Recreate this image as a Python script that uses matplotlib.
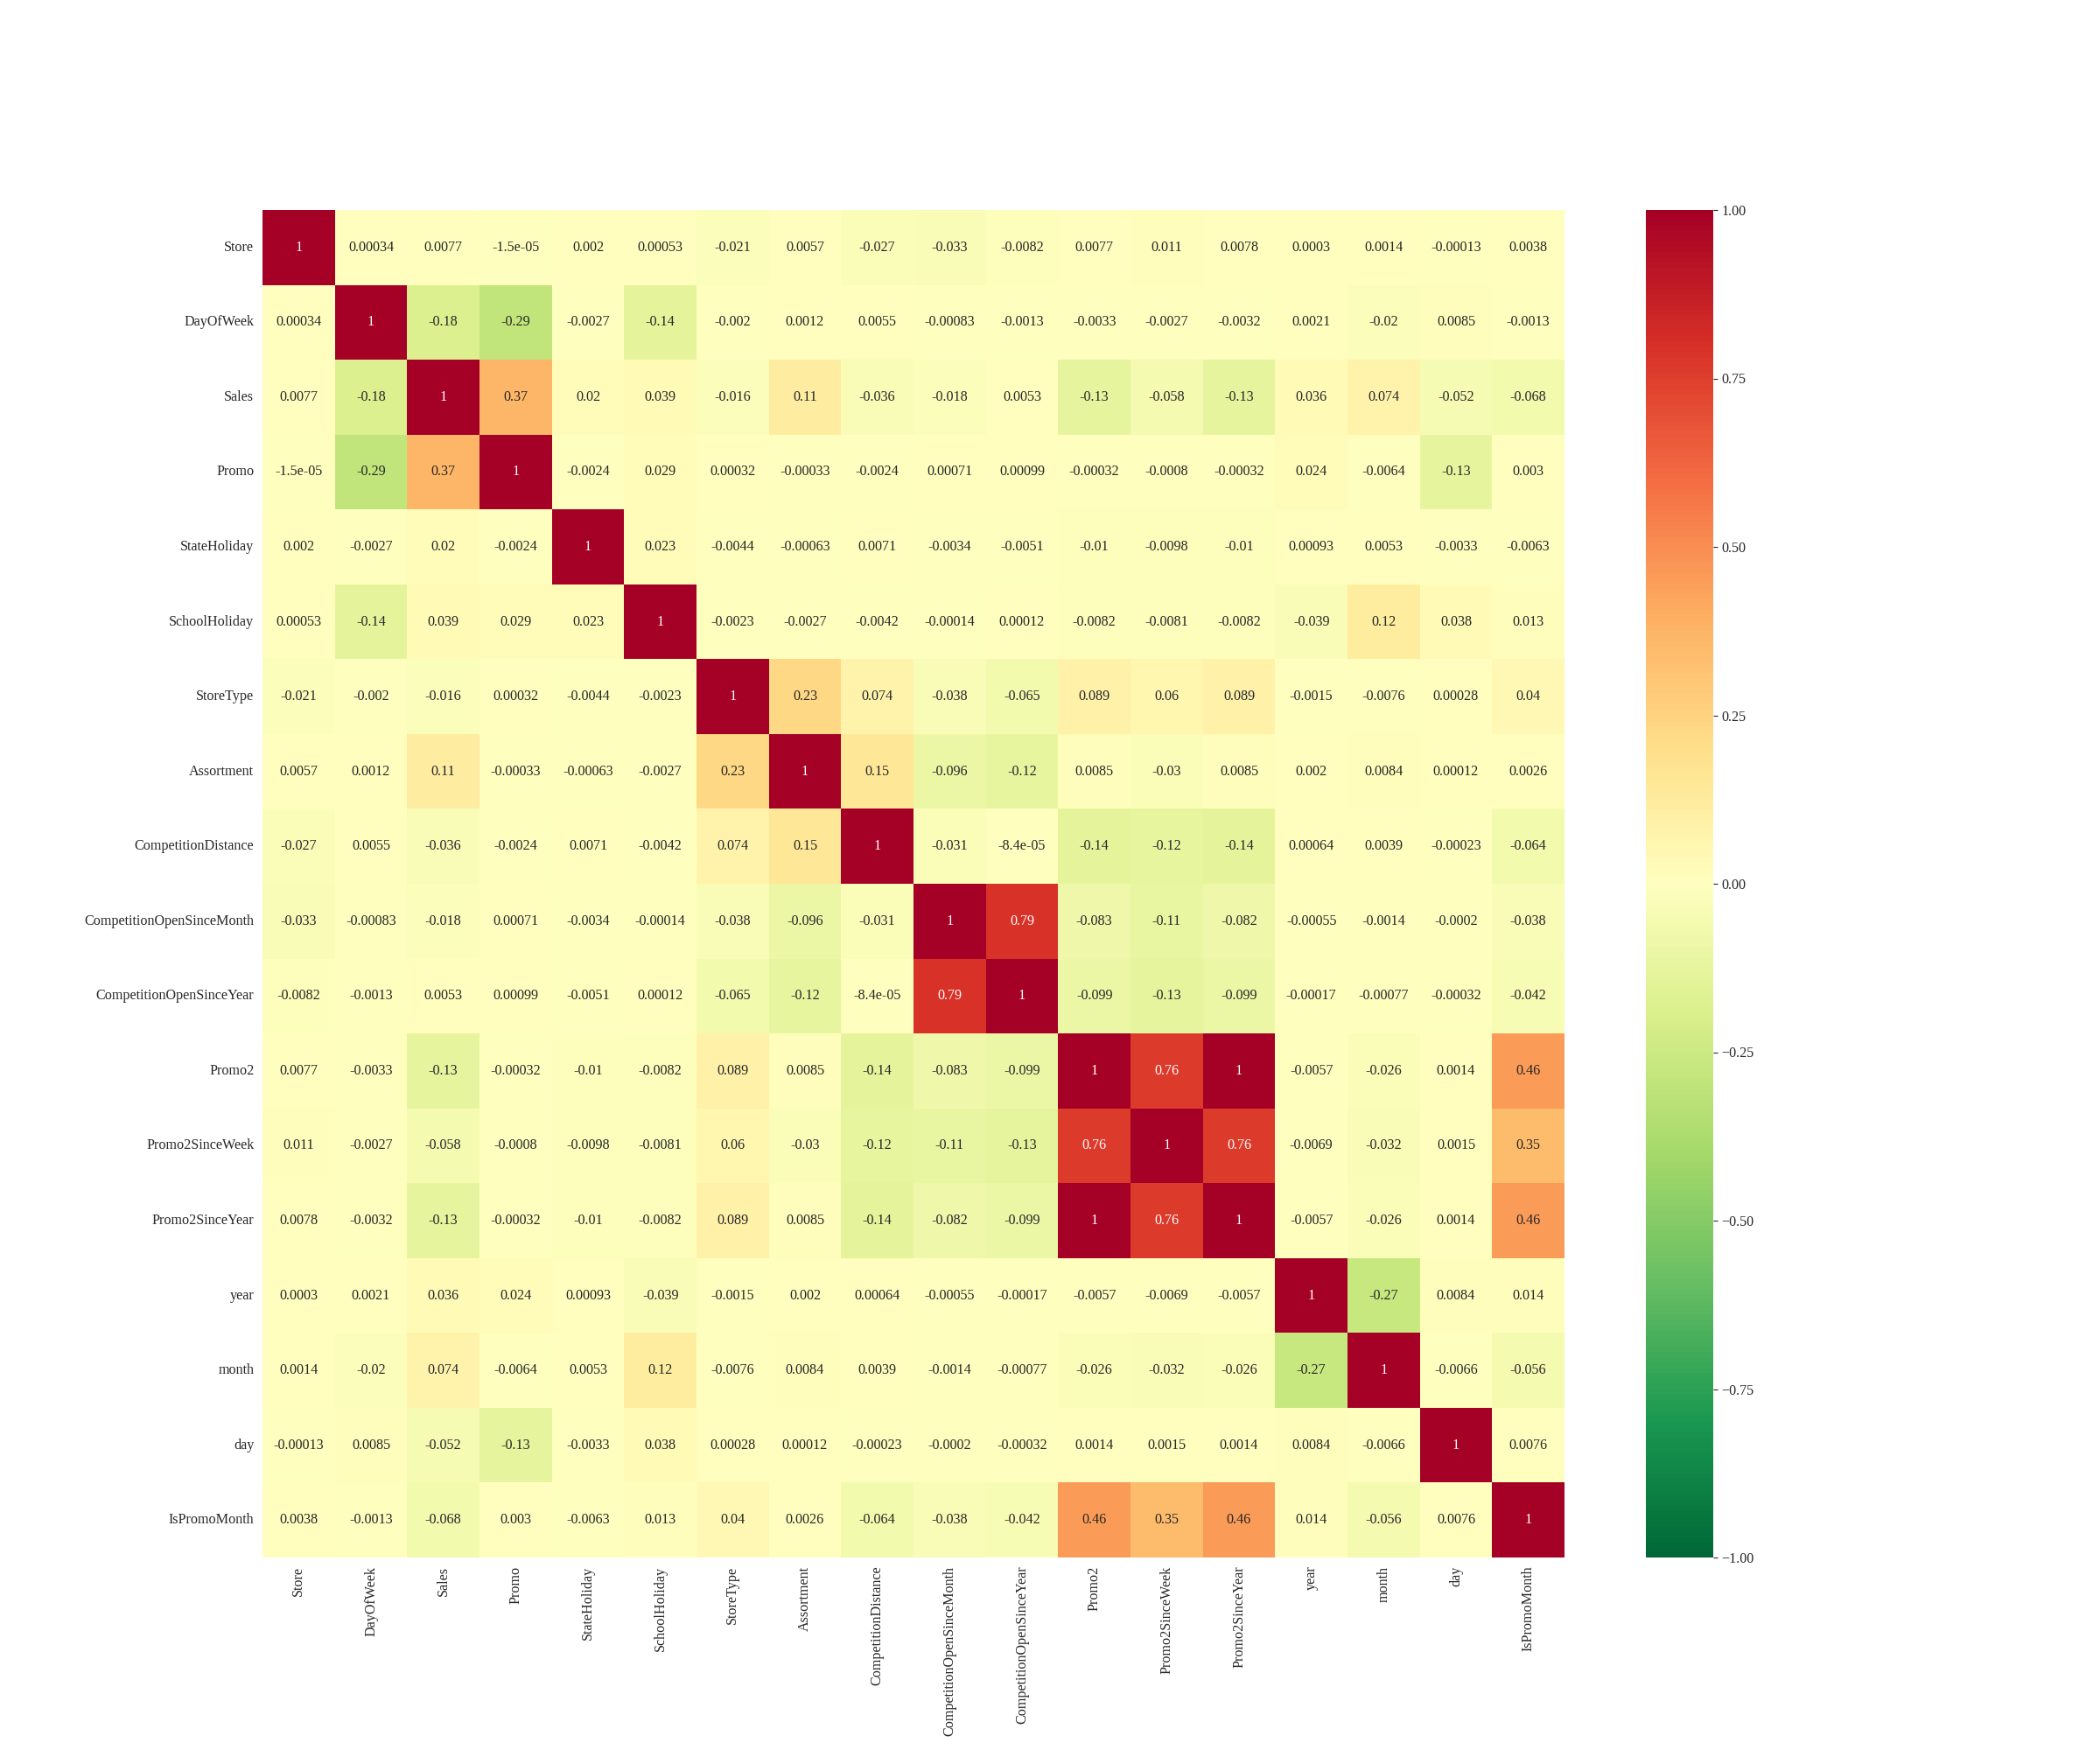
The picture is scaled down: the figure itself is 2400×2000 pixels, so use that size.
import matplotlib
matplotlib.use("Agg")
import matplotlib.pyplot as plt
import numpy as np
import pandas as pd
import seaborn as sns

# 列名
labels = ['Store', 'DayOfWeek', 'Sales', 'Promo', 'StateHoliday', 'SchoolHoliday',
          'StoreType', 'Assortment', 'CompetitionDistance', 'CompetitionOpenSinceMonth',
          'CompetitionOpenSinceYear', 'Promo2', 'Promo2SinceWeek', 'Promo2SinceYear',
          'year', 'month', 'day', 'IsPromoMonth']

# 相关系数矩阵
corr_values = [
    [1, 0.00034, 0.0077, -1.5e-05, 0.002, 0.00053, -0.021, 0.0057, -0.027, -0.033, -0.0082, 0.0077, 0.011, 0.0078, 0.0003, 0.0014, -0.00013, 0.0038],
    [0.00034, 1, -0.18, -0.29, -0.0027, -0.14, -0.002, 0.0012, 0.0055, -0.00083, -0.0013, -0.0033, -0.0027, -0.0032, 0.0021, -0.02, 0.0085, -0.0013],
    [0.0077, -0.18, 1, 0.37, 0.02, 0.039, -0.016, 0.11, -0.036, -0.018, 0.0053, -0.13, -0.058, -0.13, 0.036, 0.074, -0.052, -0.068],
    [-1.5e-05, -0.29, 0.37, 1, -0.0024, 0.029, 0.00032, -0.00033, -0.0024, 0.00071, 0.00099, -0.00032, -0.0008, -0.00032, 0.024, -0.0064, -0.13, 0.003],
    [0.002, -0.0027, 0.02, -0.0024, 1, 0.023, -0.0044, -0.00063, 0.0071, -0.0034, -0.0051, -0.01, -0.0098, -0.01, 0.00093, 0.0053, -0.0033, -0.0063],
    [0.00053, -0.14, 0.039, 0.029, 0.023, 1, -0.0023, -0.0027, -0.0042, -0.00014, 0.00012, -0.0082, -0.0081, -0.0082, -0.039, 0.12, 0.038, 0.013],
    [-0.021, -0.002, -0.016, 0.00032, -0.0044, -0.0023, 1, 0.23, 0.074, -0.038, -0.065, 0.089, 0.06, 0.089, -0.0015, -0.0076, 0.00028, 0.04],
    [0.0057, 0.0012, 0.11, -0.00033, -0.00063, -0.0027, 0.23, 1, 0.15, -0.096, -0.12, 0.0085, -0.03, 0.0085, 0.002, 0.0084, 0.00012, 0.0026],
    [-0.027, 0.0055, -0.036, -0.0024, 0.0071, -0.0042, 0.074, 0.15, 1, -0.031, -8.4e-05, -0.14, -0.12, -0.14, 0.00064, 0.0039, -0.00023, -0.064],
    [-0.033, -0.00083, -0.018, 0.00071, -0.0034, -0.00014, -0.038, -0.096, -0.031, 1, 0.79, -0.083, -0.11, -0.082, -0.00055, -0.0014, -0.0002, -0.038],
    [-0.0082, -0.0013, 0.0053, 0.00099, -0.0051, 0.00012, -0.065, -0.12, -8.4e-05, 0.79, 1, -0.099, -0.13, -0.099, -0.00017, -0.00077, -0.00032, -0.042],
    [0.0077, -0.0033, -0.13, -0.00032, -0.01, -0.0082, 0.089, 0.0085, -0.14, -0.083, -0.099, 1, 0.76, 1, -0.0057, -0.026, 0.0014, 0.46],
    [0.011, -0.0027, -0.058, -0.0008, -0.0098, -0.0081, 0.06, -0.03, -0.12, -0.11, -0.13, 0.76, 1, 0.76, -0.0069, -0.032, 0.0015, 0.35],
    [0.0078, -0.0032, -0.13, -0.00032, -0.01, -0.0082, 0.089, 0.0085, -0.14, -0.082, -0.099, 1, 0.76, 1, -0.0057, -0.026, 0.0014, 0.46],
    [0.0003, 0.0021, 0.036, 0.024, 0.00093, -0.039, -0.0015, 0.002, 0.00064, -0.00055, -0.00017, -0.0057, -0.0069, -0.0057, 1, -0.27, 0.0084, 0.014],
    [0.0014, -0.02, 0.074, -0.0064, 0.0053, 0.12, -0.0076, 0.0084, 0.0039, -0.0014, -0.00077, -0.026, -0.032, -0.026, -0.27, 1, -0.0066, -0.056],
    [-0.00013, 0.0085, -0.052, -0.13, -0.0033, 0.038, 0.00028, 0.00012, -0.00023, -0.0002, -0.00032, 0.0014, 0.0015, 0.0014, 0.0084, -0.0066, 1, 0.0076],
    [0.0038, -0.0013, -0.068, 0.003, -0.0063, 0.013, 0.04, 0.0026, -0.064, -0.038, -0.042, 0.46, 0.35, 0.46, 0.014, -0.056, 0.0076, 1],
]

corr = pd.DataFrame(corr_values, index=labels, columns=labels)

sns.set_style("white")
plt.rcParams['font.family'] = ['Liberation Serif', 'DejaVu Serif']
plt.rcParams['font.size'] = 11.6

fig, ax = plt.subplots(figsize=(24, 20), dpi=100)
sns.heatmap(corr, annot=True, cmap='RdYlGn_r', vmin=-1, vmax=1, ax=ax)
ax.tick_params(labelsize=11.6)

plt.savefig('out.png')
